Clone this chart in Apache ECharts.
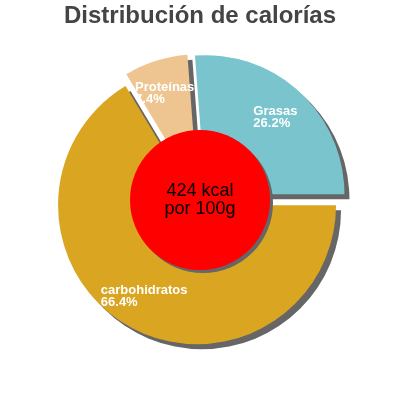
<!DOCTYPE html>
<html>
<head>
<meta charset="utf-8">
<script src="https://cdn.jsdelivr.net/npm/echarts@6/dist/echarts.min.js"></script>
<style>
  html, body { margin: 0; padding: 0; background: #fff; }
  #main { width: 400px; height: 400px; }
</style>
</head>
<body>
<div id="main"></div>
<script>
// datos del gráfico
var categories = ['carbohidratos', 'Proteínas', 'Grasas'];
var percentages = [66.4, 7.4, 26.2];
var energyValue = 424;
var energyText = ['424 kcal', 'por 100g'];

// estilo
var colors = ['#daa520', '#eec591', '#79c4cd'];
var explode = [6, 7, 8];
var FONT = '"Liberation Sans", Arial, sans-serif';

var chart = echarts.init(document.getElementById('main'));
var baseX = chart.getWidth() / 2, baseY = chart.getHeight() / 2;
var R = 139, labelR0 = 65;

// ancho del bloque de texto (lineas alineadas a la izquierda)
var ctx = document.createElement('canvas').getContext('2d');
ctx.font = 'bold 13px ' + FONT;
function blockWidth(lines) {
    var w = 0;
    lines.forEach(function (s) { w = Math.max(w, ctx.measureText(s).width); });
    return Math.ceil(w) + 2;
}

var series = [];
var cum = 0;
categories.forEach(function (name, i) {
    // angulo medio, en grados desde las 12 en sentido horario (empieza a las 3)
    var mid = 90 + (cum + percentages[i] / 2) * 3.6;
    cum += percentages[i];
    var rad = mid * Math.PI / 180;
    var c = [baseX + explode[i] * Math.sin(rad), baseY - explode[i] * Math.cos(rad)];

    //porcion
    series.push({
        type: 'pie',
        z: name === 'carbohidratos' ? 3 : 2,
        center: c,
        radius: [0, R],
        startAngle: 0,
        clockwise: true,
        silent: true,
        animation: false,
        label: { show: false },
        labelLine: { show: false },
        data: categories.map(function (n, j) {
            return {
                name: n,
                value: percentages[j],
                itemStyle: j === i ? {
                    color: colors[i], borderWidth: 0,
                    shadowColor: '#666', shadowOffsetX: 5, shadowOffsetY: 5, shadowBlur: 0
                } : { color: 'transparent', borderWidth: 0 }
            };
        })
    });

    //etiqueta
    var txt = [name, percentages[i] + '%'];
    series.push({
        type: 'pie',
        z: name === 'Proteínas' ? 2 : 3,
        center: c,
        radius: [labelR0, R],
        startAngle: 0,
        clockwise: true,
        silent: true,
        animation: false,
        avoidLabelOverlap: false,
        labelLine: { show: false },
        itemStyle: { color: 'transparent', borderWidth: 0 },
        data: categories.map(function (n, j) {
            return {
                name: n,
                value: percentages[j],
                label: j === i ? {
                    show: true,
                    position: 'inside',
                    formatter: '{t|{b}}\n{t|{c}%}',
                    width: blockWidth(txt),
                    overflow: 'none',
                    align: 'center',
                    rich: {
                        t: { align: 'left', color: '#fff', fontSize: 13, fontWeight: 'bold', lineHeight: 12, fontFamily: FONT }
                    }
                } : { show: false }
            };
        })
    });
});

// circulo central
series.push({
    type: 'pie',
    z: 5,
    center: [baseX, baseY],
    radius: [0, 70],
    silent: true,
    animation: false,
    labelLine: { show: false },
    label: {
        show: true,
        position: 'center',
        formatter: energyText.join('\n'),
        color: '#000',
        fontSize: 18,
        lineHeight: 18,
        fontFamily: FONT
    },
    data: [{
        name: 'energía',
        value: energyValue,
        itemStyle: { color: '#ff0000', borderWidth: 0, shadowColor: '#666', shadowOffsetX: 3, shadowOffsetY: 3, shadowBlur: 0 }
    }]
});

chart.setOption({
    backgroundColor: '#fff',
    title: {
        text: 'Distribución de calorías',
        left: 'center',
        top: 4,
        padding: 0,
        textStyle: { fontSize: 24, fontWeight: 'bold', color: '#444', fontFamily: FONT }
    },
    series: series
});
</script>
</body>
</html>
